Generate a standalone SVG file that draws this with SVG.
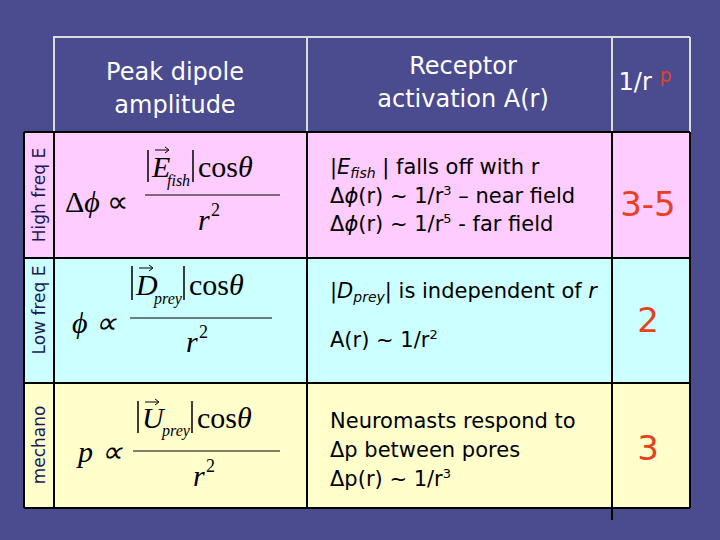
<svg xmlns="http://www.w3.org/2000/svg" width="720" height="540" viewBox="0 0 720 540">
<style>
.t{font-family:"DejaVu Sans",Verdana,sans-serif;font-size:21px;fill:#000}
.h{font-family:"DejaVu Sans",Verdana,sans-serif;font-size:24px;fill:#fff;text-anchor:middle}
.s{font-family:"DejaVu Sans",Verdana,sans-serif;font-size:17px;fill:#1a1a5a;text-anchor:middle}
.m{font-family:"Liberation Serif","Times New Roman",serif;font-size:30px;fill:#000}
.mi{font-family:"Liberation Serif","Times New Roman",serif;font-size:30px;font-style:italic;fill:#000}
.sub{font-family:"Liberation Serif","Times New Roman",serif;font-size:16px;font-style:italic;fill:#000}
.sup{font-family:"Liberation Serif","Times New Roman",serif;font-size:18px;fill:#000}
.n{font-family:"DejaVu Sans",Verdana,sans-serif;font-size:34px;fill:#e8401c;text-anchor:middle}
.g{stroke:#000;stroke-width:2;fill:none}
.w{stroke:#ddd;stroke-width:2;fill:none}
</style>
<rect width="720" height="540" fill="#4b4b8f"/>
<g id="rows">
<rect x="24" y="132" width="666" height="126" fill="#ffccff"/>
<rect x="24" y="258" width="666" height="125" fill="#ccffff"/>
<rect x="24" y="383" width="666" height="125" fill="#ffffcc"/>
</g>
<g id="lines">
<path class="w" d="M54 132V37H690M307 37V132M612 37V132M690 37V132"/>
<path class="g" d="M24 132H690M24 258H690M24 383H690M24 508H690M24 132V508M54 132V508M307 132V508M612 132V520M690 132V508"/>
</g>
<g id="header">
<text class="h" x="175" y="80">Peak dipole</text>
<text class="h" x="175" y="113">amplitude</text>
<text class="h" x="463" y="74">Receptor</text>
<text class="h" x="463" y="107">activation A(r)</text>
<text class="h" x="645" y="90">1/r <tspan style="fill:#e8401c;font-size:19px" dy="-8">p</tspan></text>
</g>
<g id="side">
<text class="s" transform="translate(45 195) rotate(-90)">High freq E</text>
<text class="s" transform="translate(45 310) rotate(-90)">Low freq E</text>
<text class="s" transform="translate(45 445) rotate(-90)">mechano</text>
</g>
<g id="formula1">
<text class="m" x="65" y="212">Δ<tspan class="mi">ϕ</tspan> ∝</text>
<path d="M148 150V182M193 150V182" stroke="#000" stroke-width="1.5"/>
<text class="mi" x="152" y="177">E</text><text class="sub" x="167" y="186">fish</text>
<path d="M155 150H168M165 147L169 150L165 153" stroke="#000" stroke-width="1" fill="none"/>
<text class="m" x="198" y="177">cos<tspan class="mi">θ</tspan></text>
<path d="M145 195H280" stroke="#000" stroke-width="1.2"/>
<text class="mi" x="198" y="230">r</text><text class="sup" x="211" y="216">2</text>
</g>
<g id="formula2">
<text class="mi" x="72" y="333">ϕ <tspan class="m">∝</tspan></text>
<path d="M132 266V300M184 266V300" stroke="#000" stroke-width="1.5"/>
<text class="mi" x="136" y="295">D</text><text class="sub" x="154" y="304">prey</text>
<path d="M139 268H152M149 265L153 268L149 271" stroke="#000" stroke-width="1" fill="none"/>
<text class="m" x="189" y="295">cos<tspan class="mi">θ</tspan></text>
<path d="M130 318H272" stroke="#000" stroke-width="1.2"/>
<text class="mi" x="186" y="352">r</text><text class="sup" x="199" y="338">2</text>
</g>
<g id="formula3">
<text class="mi" x="78" y="462">p <tspan class="m">∝</tspan></text>
<path d="M138 401V433M192 401V433" stroke="#000" stroke-width="1.5"/>
<text class="mi" x="142" y="428">U</text><text class="sub" x="162" y="436">prey</text>
<path d="M145 402H158M155 399L159 402L155 405" stroke="#000" stroke-width="1" fill="none"/>
<text class="m" x="197" y="428">cos<tspan class="mi">θ</tspan></text>
<path d="M133 451H280" stroke="#000" stroke-width="1.2"/>
<text class="mi" x="193" y="486">r</text><text class="sup" x="206" y="472">2</text>
</g>
<g id="text1">
<text class="t" x="330" y="174">|<tspan font-style="italic">E<tspan style="font-size:14px" dy="4">fish</tspan></tspan><tspan dy="-4"> | falls off with r</tspan></text>
<text class="t" x="330" y="203">Δ<tspan font-style="italic">ϕ</tspan>(r) ~ 1/r<tspan style="font-size:13px" dy="-8">3</tspan><tspan dy="8"> – near field</tspan></text>
<text class="t" x="330" y="231">Δ<tspan font-style="italic">ϕ</tspan>(r) ~ 1/r<tspan style="font-size:13px" dy="-8">5</tspan><tspan dy="8"> - far field</tspan></text>
</g>
<g id="text2">
<text class="t" x="330" y="298">|<tspan font-style="italic">D<tspan style="font-size:14px" dy="4">prey</tspan></tspan><tspan dy="-4">| is independent of <tspan font-style="italic">r</tspan></tspan></text>
<text class="t" x="330" y="347">A(r) ~ 1/r<tspan style="font-size:13px" dy="-8">2</tspan></text>
</g>
<g id="text3">
<text class="t" x="330" y="428">Neuromasts respond to</text>
<text class="t" x="330" y="457">Δp between pores</text>
<text class="t" x="330" y="486">Δp(r) ~ 1/r<tspan style="font-size:13px" dy="-8">3</tspan></text>
</g>
<g id="nums">
<text class="n" x="648" y="216">3-5</text>
<text class="n" x="648" y="332">2</text>
<text class="n" x="648" y="460">3</text>
</g>
</svg>
